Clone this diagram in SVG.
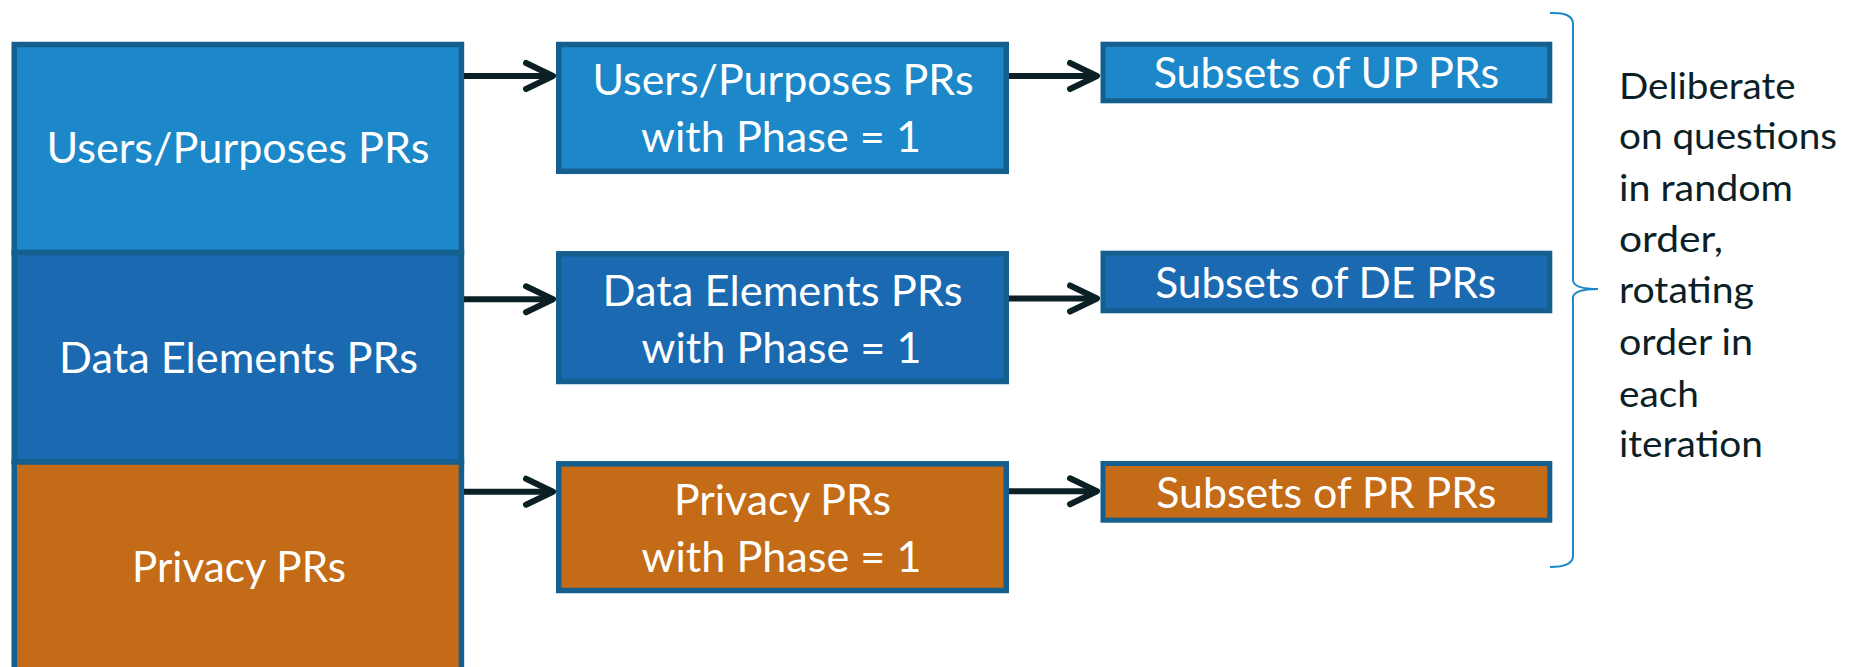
<svg xmlns="http://www.w3.org/2000/svg" width="1860" height="667" viewBox="0 0 1860 667">
<style>
.lb{fill:#1c88c9;stroke:#145f8e;stroke-width:5.5}
.mb{fill:#1a69b1;stroke:#145f8e;stroke-width:5.5}
.ob{fill:#c36b17;stroke:#145f8e;stroke-width:5.5}
.t{font-family:Lato,"Open Sans",sans-serif;font-size:42.5px;fill:#ffffff;text-anchor:middle}
.n{font-family:Lato,"Open Sans",sans-serif;font-size:37.5px;fill:#0d1f26}
.c{stroke:#0b2024;stroke-width:6;fill:none}
</style>
<defs>
<marker id="ah" viewBox="-32 -18 38 36" markerWidth="38" markerHeight="36" refX="0" refY="0" orient="auto" markerUnits="userSpaceOnUse">
<path d="M -27 -13 L 0 0 L -27 13" fill="none" stroke="#0b2024" stroke-width="6" stroke-linecap="round" stroke-linejoin="round"/>
</marker>
</defs>
<rect width="1860" height="667" fill="#ffffff"/>
<g id="left-up">
<rect class="lb" x="14.25" y="44.5" width="447.2" height="208"/>
<text class="t" x="238" y="163" textLength="383" lengthAdjust="spacingAndGlyphs">Users/Purposes PRs</text>
</g>
<g id="left-de">
<rect class="mb" x="14.25" y="252.5" width="447.2" height="209.5"/>
<text class="t" x="238.5" y="373" textLength="359" lengthAdjust="spacingAndGlyphs">Data Elements PRs</text>
</g>
<g id="left-pr">
<rect class="ob" x="14.25" y="462" width="447.2" height="240"/>
<text class="t" x="239" y="582" textLength="214" lengthAdjust="spacingAndGlyphs">Privacy PRs</text>
</g>
<g id="mid-up">
<rect class="lb" x="558.75" y="44.5" width="447.5" height="126.8"/>
<text class="t" x="783" y="95" textLength="381" lengthAdjust="spacingAndGlyphs">Users/Purposes PRs</text>
<text class="t" x="781" y="152" textLength="280" lengthAdjust="spacingAndGlyphs">with Phase = 1</text>
</g>
<g id="mid-de">
<rect class="mb" x="558.75" y="253.8" width="447.5" height="127.7"/>
<text class="t" x="782.5" y="306" textLength="360" lengthAdjust="spacingAndGlyphs">Data Elements PRs</text>
<text class="t" x="781.5" y="363" textLength="280" lengthAdjust="spacingAndGlyphs">with Phase = 1</text>
</g>
<g id="mid-pr">
<rect class="ob" x="558.75" y="463.8" width="447.5" height="126.7"/>
<text class="t" x="782.5" y="515" textLength="217" lengthAdjust="spacingAndGlyphs">Privacy PRs</text>
<text class="t" x="781.5" y="572" textLength="280" lengthAdjust="spacingAndGlyphs">with Phase = 1</text>
</g>
<g id="right-up">
<rect class="lb" x="1103" y="44.2" width="446.8" height="56.6" style="stroke-width:5"/>
<text class="t" x="1326.4" y="88" textLength="345.5" lengthAdjust="spacingAndGlyphs">Subsets of UP PRs</text>
</g>
<g id="right-de">
<rect class="mb" x="1103" y="253.2" width="446.8" height="57.6" style="stroke-width:5"/>
<text class="t" x="1325.7" y="297.5" textLength="341" lengthAdjust="spacingAndGlyphs">Subsets of DE PRs</text>
</g>
<g id="right-pr">
<rect class="ob" x="1103" y="463.5" width="446.8" height="56.7" style="stroke-width:5"/>
<text class="t" x="1326.3" y="508" textLength="340" lengthAdjust="spacingAndGlyphs">Subsets of PR PRs</text>
</g>
<g id="connectors">
<line class="c" x1="464" y1="76" x2="553" y2="76" marker-end="url(#ah)"/>
<line class="c" x1="464" y1="299.3" x2="553" y2="299.3" marker-end="url(#ah)"/>
<line class="c" x1="464" y1="491.7" x2="553" y2="491.7" marker-end="url(#ah)"/>
<line class="c" x1="1009" y1="76" x2="1097" y2="76" marker-end="url(#ah)"/>
<line class="c" x1="1009" y1="298.5" x2="1097" y2="298.5" marker-end="url(#ah)"/>
<line class="c" x1="1009" y1="491.3" x2="1097" y2="491.3" marker-end="url(#ah)"/>
</g>
<g id="brace">
<path d="M 1550 13 Q 1573 12 1573 24 L 1573 280 Q 1573 289 1598 289 Q 1573 289 1573 298 L 1573 556 Q 1573 567 1550 567" fill="none" stroke="#1c88c9" stroke-width="2"/>
</g>
<g id="note">
<text class="n" x="1619" y="99" textLength="176.6" lengthAdjust="spacingAndGlyphs">Deliberate</text>
<text class="n" x="1619" y="149" textLength="218" lengthAdjust="spacingAndGlyphs">on questions</text>
<text class="n" x="1619" y="200.5" textLength="174" lengthAdjust="spacingAndGlyphs">in random</text>
<text class="n" x="1619" y="252" textLength="104" lengthAdjust="spacingAndGlyphs">order,</text>
<text class="n" x="1619" y="303" textLength="135" lengthAdjust="spacingAndGlyphs">rotating</text>
<text class="n" x="1619" y="355" textLength="134" lengthAdjust="spacingAndGlyphs">order in</text>
<text class="n" x="1619" y="406.5" textLength="80" lengthAdjust="spacingAndGlyphs">each</text>
<text class="n" x="1619" y="457.3" textLength="144" lengthAdjust="spacingAndGlyphs">iteration</text>
</g>
</svg>
